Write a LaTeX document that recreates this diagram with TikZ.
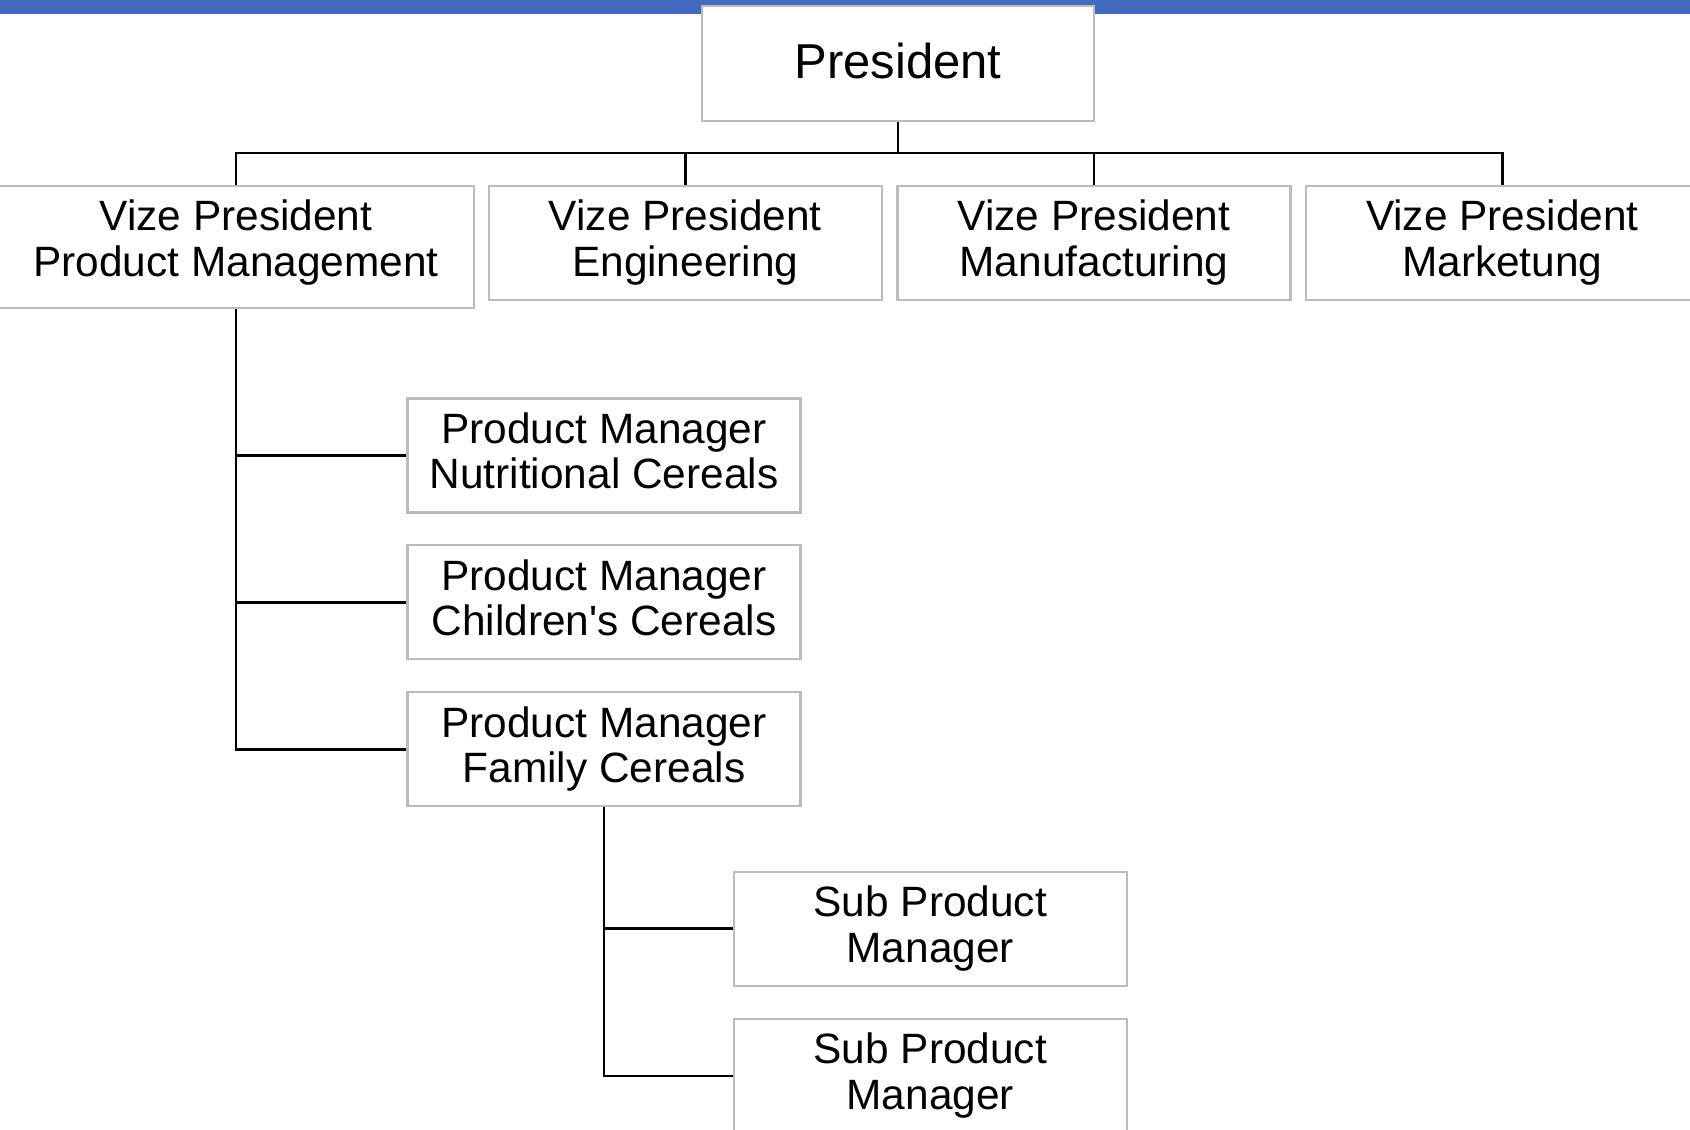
\documentclass[tikz,border=0pt]{standalone}
\usepackage{fontspec}
% plain family: no TeX ligature mapping, so ' stays a straight quote
\newfontfamily\orgfont{Liberation Sans}
\definecolor{barblue}{RGB}{66,106,190}
\definecolor{boxgray}{RGB}{188,188,188}
\begin{document}
\begin{tikzpicture}[x=0.5pt,y=-0.5pt,
  orgbox/.style={draw=boxgray, line width=1.2pt, fill=white, rectangle,
    align=center, inner sep=0pt, text depth=4.7pt,
    font=\orgfont\fontsize{21.2}{22.8}\selectfont},
  stdbox/.style={orgbox, minimum width=196.4pt, minimum height=57pt},
  link/.style={draw=black, line width=1.3pt}]
\useasboundingbox (0,0) rectangle (1690,1129);
\clip (0,0) rectangle (1690,1129);

% title bar
\fill[barblue] (0,0) rectangle (1690,14);

% top level
\node[orgbox, minimum width=196pt, minimum height=57.5pt, text depth=3pt,
      font=\orgfont\fontsize{24.5}{26}\selectfont] (pres) at (898,63.5)
  {President};

% vice presidents
\node[orgbox, minimum width=237.7pt, minimum height=61pt, text depth=9pt]
  (vp1) at (236,247) {Vize President\\Product Management};
\node[stdbox] (vp2) at (685.3,243) {Vize President\\Engineering};
\node[stdbox] (vp3) at (1094,243) {Vize President\\Manufacturing};
\node[stdbox] (vp4) at (1502.3,243) {Vize President\\Marketung};

% product managers
\node[stdbox] (pm1) at (604,455.3) {Product Manager\\Nutritional Cereals};
\node[stdbox] (pm2) at (604,602.2) {Product Manager\\Children's Cereals};
\node[stdbox] (pm3) at (604,749.2) {Product Manager\\Family Cereals};

% sub product managers
\node[stdbox] (sp1) at (930.3,928.7) {Sub Product\\Manager};
\node[stdbox] (sp2) at (930.3,1076) {Sub Product\\Manager};

% connectors: president to vice presidents
\coordinate (bus) at (898,153);
\draw[link] (pres.south) -- (bus);
\draw[link] (vp1.north) -- (vp1.north |- bus) -- (vp4.north |- bus) -- (vp4.north);
\draw[link] (vp2.north) -- (vp2.north |- bus);
\draw[link] (vp3.north) -- (vp3.north |- bus);

% connectors: product management branch
\draw[link] (vp1.south) |- (pm3.west);
\draw[link] (pm1.west) -- (pm1.west -| vp1.south);
\draw[link] (pm2.west) -- (pm2.west -| vp1.south);

% connectors: family cereals branch
\draw[link] (pm3.south) |- (sp2.west);
\draw[link] (sp1.west) -- (sp1.west -| pm3.south);
\end{tikzpicture}
\end{document}
